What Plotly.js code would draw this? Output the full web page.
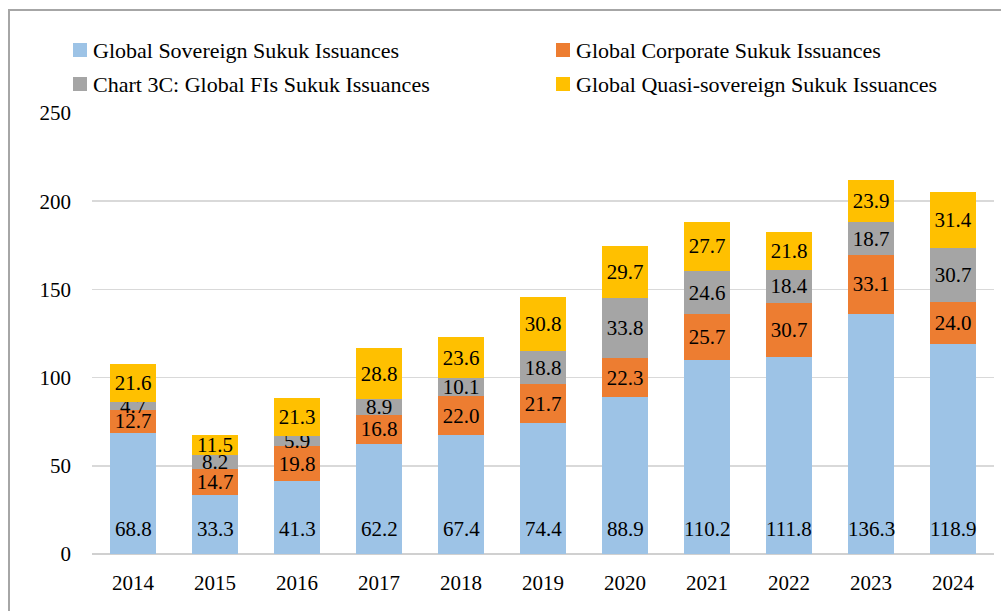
<!DOCTYPE html>
<html>
<head>
<meta charset="utf-8">
<script src="https://cdn.plot.ly/plotly-3.0.1.min.js"></script>
<style>html,body{margin:0;padding:0;background:#fff;}#chart{width:1001px;height:611px;}</style>
</head>
<body>
<div id="chart"></div>
<script>
const years = ['2014','2015','2016','2017','2018','2019','2020','2021','2022','2023','2024'];
const sovereign = [68.8, 33.3, 41.3, 62.2, 67.4, 74.4, 88.9, 110.2, 111.8, 136.3, 118.9];
const corporate = [12.7, 14.7, 19.8, 16.8, 22.0, 21.7, 22.3, 25.7, 30.7, 33.1, 24.0];
const fis = [4.7, 8.2, 5.9, 8.9, 10.1, 18.8, 33.8, 24.6, 18.4, 18.7, 30.7];
const quasi = [21.6, 11.5, 21.3, 28.8, 23.6, 30.8, 29.7, 27.7, 21.8, 23.9, 31.4];
const seriesNames = ['Global Sovereign Sukuk Issuances', 'Global Corporate Sukuk Issuances',
                     'Chart 3C: Global FIs Sukuk Issuances', 'Global Quasi-sovereign Sukuk Issuances'];
const seriesColors = ['#9DC3E6', '#ED7D31', '#A5A5A5', '#FFC000'];
const yTicks = [0, 50, 100, 150, 200, 250];

const FONT = 'Liberation Serif, Times New Roman, serif';
const seriesData = [sovereign, corporate, fis, quasi];

const traces = seriesData.map((vals, i) => ({
  type: 'bar',
  name: seriesNames[i],
  x: years,
  y: vals,
  marker: {color: seriesColors[i], line: {width: 0}},
  texttemplate: i === 0 ? '' : '%{y:.1f}',
  textposition: i === 0 ? 'none' : 'inside',
  insidetextanchor: 'middle',
  constraintext: 'none',
  textfont: {family: FONT, size: 21, color: '#000'},
  hoverinfo: 'skip',
  showlegend: false
}));

// Layout helpers (pixel -> paper)
const L = 92, R = 994, T = 113, B = 554;
const px = v => (v - L) / (R - L);
const py = v => (B - v) / (B - T);

// sovereign labels near bar base (category serial index on x)
const annotations = years.map((yr, i) => ({
  x: i, y: 0, xref: 'x', yref: 'y',
  text: sovereign[i].toFixed(1),
  showarrow: false, yanchor: 'middle', yshift: 25,
  font: {family: FONT, size: 21, color: '#000'}
}));

// legend (custom)
const legendPos = [[73, 50], [556, 50], [73, 84], [556, 84]];
const shapes = [];
seriesNames.forEach((nm, i) => {
  const [lx, ly] = legendPos[i];
  shapes.push({type: 'rect', xref: 'paper', yref: 'paper',
    x0: px(lx), x1: px(lx + 14), y0: py(ly + 7), y1: py(ly - 7),
    fillcolor: seriesColors[i], line: {width: 0}});
  annotations.push({xref: 'paper', yref: 'paper', x: px(lx + 18), y: py(ly),
    xanchor: 'left', yanchor: 'middle', showarrow: false, text: nm,
    font: {family: FONT, size: 22, color: '#000'}});
});
// frame
shapes.push({type: 'rect', xref: 'paper', yref: 'paper',
  x0: px(9), x1: px(1100), y0: py(700), y1: py(10),
  line: {color: '#A6A6A6', width: 2}, fillcolor: 'rgba(0,0,0,0)'});

const layout = {
  width: 1001, height: 611,
  margin: {l: L, r: 1001 - R, t: T, b: 611 - B},
  paper_bgcolor: '#fff', plot_bgcolor: '#fff',
  barmode: 'stack', bargap: 0.43,
  showlegend: false,
  font: {family: FONT, size: 21, color: '#000'},
  xaxis: {type: 'category', categoryorder: 'array', categoryarray: years,
          range: [-0.5, years.length - 0.5], autorange: false,
          showgrid: false, showline: false, ticks: '',
          tickfont: {family: FONT, size: 21, color: '#000'}, ticklabelstandoff: 14, fixedrange: true},
  yaxis: {range: [0, 250], autorange: false, tickvals: yTicks, ticktext: yTicks.map(String),
          showgrid: true, gridcolor: '#D9D9D9', gridwidth: 1.5,
          zeroline: true, zerolinecolor: '#D0D0D0', zerolinewidth: 2,
          showline: false, ticks: '', ticklabelstandoff: 20,
          tickfont: {family: FONT, size: 21, color: '#000'}, fixedrange: true},
  annotations: annotations,
  shapes: shapes
};

Plotly.newPlot('chart', traces, layout, {displayModeBar: false, staticPlot: true});
</script>
</body>
</html>
